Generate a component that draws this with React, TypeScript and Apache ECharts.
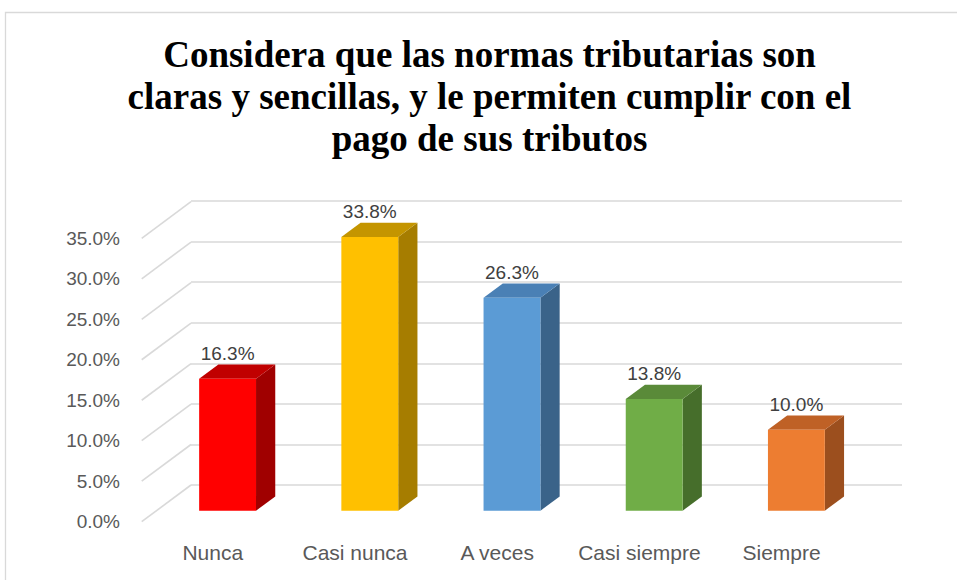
import React, { useEffect, useRef } from "react";
import * as echarts from "echarts";

const titleLines = [
  "Considera que las normas tributarias son",
  "claras y sencillas, y le permiten cumplir con el",
  "pago de sus tributos",
];
const categories = ["Nunca", "Casi nunca", "A veces", "Casi siempre", "Siempre"];
const values = [16.3, 33.8, 26.3, 13.8, 10.0];
const yTicks = [0, 5, 10, 15, 20, 25, 30, 35];
const frontColors = ["#FF0000", "#FFC000", "#5B9BD5", "#70AD47", "#ED7D31"];
const topColors = ["#C00000", "#C49500", "#4A80B5", "#5A8A39", "#BF6126"];
const sideColors = ["#A00000", "#A67D00", "#3A6389", "#466E2B", "#9C4F1E"];

// 3D depth vector (front plane -> back wall)
const DX = 49.3;
const DY = -36.7;
const T_FRONT = 0.3;
const T_BACK = 0.69;
const BAR_FRAC = 0.4;

export default function App() {
  const ref = useRef<HTMLDivElement>(null);
  useEffect(() => {
    if (!ref.current) return;
    const chart = echarts.init(ref.current, null, { renderer: "svg" });
    const option: any = {
      animation: false,
      backgroundColor: "#ffffff",
      graphic: [
        {
          type: "rect",
          shape: { x: 5.5, y: 12.5, width: 1200, height: 1200 },
          style: { fill: "none", stroke: "#d9d9d9", lineWidth: 1.3 },
          silent: true,
        },
        {
          type: "text",
          x: 489.5,
          y: 33,
          style: {
            text: titleLines.join("\n"),
            fontFamily: "Liberation Serif",
            fontWeight: "bold",
            fontSize: 37,
            lineHeight: 42,
            fill: "#000000",
            align: "center",
            verticalAlign: "top",
          },
        },
      ],
      grid: [
        // back wall
        { left: 191, right: 55, top: 201, bottom: 95 },
        // front plane
        { left: 141.7, right: 104.3, top: 238.3, bottom: 58.3 },
      ],
      xAxis: [
        {
          type: "category",
          gridIndex: 0,
          data: categories,
          show: false,
        },
        {
          type: "category",
          gridIndex: 1,
          data: categories,
          axisLine: { show: false },
          axisTick: { show: false },
          axisLabel: {
            interval: 0,
            margin: 20,
            color: "#595959",
            fontSize: 21,
            fontFamily: "Liberation Sans",
          },
        },
      ],
      yAxis: [
        {
          type: "value",
          gridIndex: 0,
          min: 0,
          max: 35,
          interval: 5,
          axisLabel: { show: false },
          axisLine: { show: false },
          axisTick: { show: false },
          splitLine: { lineStyle: { color: "#d9d9d9", width: 1.6 } },
        },
        {
          type: "value",
          gridIndex: 1,
          min: 0,
          max: 35,
          interval: 5,
          axisLine: { show: false },
          axisTick: { show: false },
          splitLine: { show: false },
          axisLabel: {
            margin: 21.7,
            color: "#595959",
            fontSize: 19,
            fontFamily: "Liberation Sans",
            formatter: (v: number) => v.toFixed(1) + "%",
          },
        },
      ],
      series: [
        {
          type: "custom",
          name: "wall",
          xAxisIndex: 1,
          yAxisIndex: 1,
          silent: true,
          data: yTicks.map((v) => [0, v]),
          renderItem: (params: any, api: any) => {
            const p = api.coord([0, api.value(1)]);
            const band = api.size([1, 0])[0];
            const x0 = p[0] - band / 2;
            return {
              type: "line",
              shape: { x1: x0, y1: p[1], x2: x0 + DX, y2: p[1] + DY },
              style: { stroke: "#d9d9d9", lineWidth: 1.6 },
            };
          },
        },
        {
          type: "custom",
          name: "bars",
          xAxisIndex: 1,
          yAxisIndex: 1,
          data: values.map((v, i) => [i, v]),
          renderItem: (params: any, api: any) => {
            const i = api.value(0);
            const v = api.value(1);
            const base = api.coord([i, 0]);
            const top = api.coord([i, v]);
            const band = api.size([1, 0])[0];
            const w = band * BAR_FRAC;
            const x0 = base[0] + DX * T_FRONT - w / 2;
            const x1 = x0 + w;
            const yb = base[1] + DY * T_FRONT;
            const yt = top[1] + DY * T_FRONT;
            const dx = DX * (T_BACK - T_FRONT);
            const dy = DY * (T_BACK - T_FRONT);
            return {
              type: "group",
              children: [
                {
                  type: "polygon",
                  shape: {
                    points: [
                      [x1, yt],
                      [x1, yb],
                      [x1 + dx, yb + dy],
                      [x1 + dx, yt + dy],
                    ],
                  },
                  style: { fill: sideColors[i] },
                },
                {
                  type: "polygon",
                  shape: {
                    points: [
                      [x0, yt],
                      [x1, yt],
                      [x1 + dx, yt + dy],
                      [x0 + dx, yt + dy],
                    ],
                  },
                  style: { fill: topColors[i] },
                },
                {
                  type: "rect",
                  shape: { x: x0, y: yt, width: w, height: yb - yt },
                  style: { fill: frontColors[i] },
                },
                {
                  type: "text",
                  x: (x0 + x1) / 2,
                  y: yt + dy - 11,
                  style: {
                    text: v.toFixed(1) + "%",
                    fontFamily: "Liberation Sans",
                    fontSize: 19,
                    fill: "#404040",
                    align: "center",
                    verticalAlign: "middle",
                  },
                },
              ],
            };
          },
        },
      ],
    };
    chart.setOption(option);
    return () => chart.dispose();
  }, []);
  return (
    <div
      ref={ref}
      style={{ position: "fixed", left: 0, top: 0, width: 957, height: 580 }}
    />
  );
}
